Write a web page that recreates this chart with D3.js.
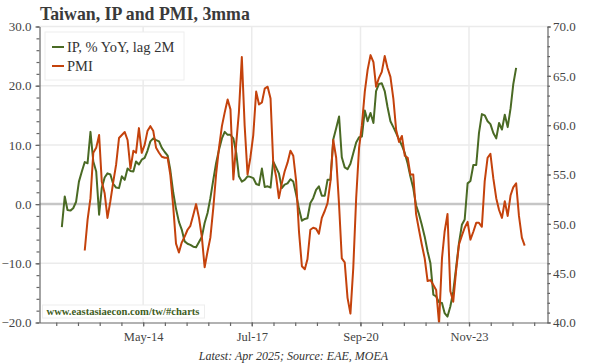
<!DOCTYPE html>
<html>
<head>
<meta charset="utf-8">
<script src="https://cdn.jsdelivr.net/npm/d3@7"></script>
<style>
  body { margin: 0; background: #fff; }
  svg { display: block; font-family: "Liberation Serif", "Times New Roman", serif; }
  .axis path, .axis line { stroke: #666; stroke-width: 1.2; }
  .axis text { fill: #444; font-family: "Liberation Serif", serif; }
</style>
</head>
<body>
<script>
const width = 600,
    height = 364;
const plot = { left: 39.5, right: 547.5, top: 26.5, bottom: 322.5 };

// IP, % YoY (lag 2M), 3mma, monthly from Jan 2012
const ipStart = new Date(2012, 0, 1);
const ipValues = [
    -3.9, 1.3, -1.0, -1.1, -0.7, 0.4, 3.8, 5.5, 7.1, 6.9,
    12.2, 7.2, 5.5, -1.8, 2.7, 4.5, 5.2, 5.0, 3.4, 2.8,
    2.7, 4.7, 4.1, 6.0, 5.6, 5.5, 7.2, 6.7, 7.5, 7.8,
    9.0, 10.6, 11.1, 10.8, 10.6, 9.5, 8.8, 8.2, 5.8, 2.0,
    -0.8, -3.0, -4.3, -6.3, -6.7, -6.9, -7.2, -7.3, -6.4, -5.5,
    -3.2, -1.5, 1.0, 4.1, 6.9, 9.2, 11.1, 12.2, 11.7, 11.7,
    11.1, 8.6, 4.7, 3.8, 4.1, 4.7, 4.6, 4.4, 3.4, 3.2,
    6.0, 2.9, 3.0, 2.8, 7.2, 6.2, 5.2, 2.7, 3.3, 3.5,
    4.2, 3.8, 1.6, -0.8, -2.8, -2.5, -2.4, 0.2, 1.0, 2.4,
    3.0, 1.4, 1.4, 4.1, 4.1, 10.9, 12.8, 14.8, 7.9, 6.2,
    5.9, 6.8, 8.6, 10.4, 11.3, 11.4, 15.8, 14.0, 15.4, 13.7,
    19.1, 20.3, 20.4, 19.1, 16.4, 14.0, 13.0, 12.0, 10.9, 9.9,
    8.6, 6.8, 4.7, 2.7, -0.2, -1.7, -3.5, -5.5, -8.0, -10.0,
    -15.3, -15.6, -16.6, -16.7, -18.4, -19.0, -17.3, -14.8, -10.8, -6.6,
    -3.5, -2.6, 3.5, 3.9, 6.6, 6.6, 12.0, 15.2, 15.0, 14.0,
    13.5, 12.0, 11.1, 13.7, 12.6, 15.1, 13.0, 16.2, 20.2, 23.0
];

// PMI, 3mma, monthly from Sep 2012
const pmiStart = new Date(2012, 8, 1);
const pmiValues = [
    47.3, 50.4, 52.6, 57.2, 57.7, 59.0, 54.3, 53.1, 50.6, 52.3,
    54.2, 56.0, 58.7, 59.0, 59.3, 58.5, 55.6, 57.4, 57.2, 59.7,
    57.2, 58.0, 59.4, 59.9, 59.4, 57.7, 57.2, 56.8, 56.7, 56.7,
    55.0, 51.8, 48.0, 47.1, 48.1, 48.7, 49.4, 49.8, 50.9, 52.0,
    50.6, 48.6, 45.6, 47.2, 48.6, 51.6, 55.0, 57.7, 59.9, 61.3,
    62.6, 61.6, 54.5, 58.2, 61.3, 66.9, 60.0, 55.0, 56.7, 59.0,
    63.4, 62.1, 62.3, 63.7, 63.9, 62.7, 56.3, 54.8, 52.6, 54.1,
    55.3, 56.2, 57.4, 56.9, 54.3, 49.2, 45.7, 45.4, 46.4, 49.4,
    49.6, 49.5, 49.0, 50.6, 51.3, 52.1, 54.3, 58.5, 56.7, 51.9,
    46.5, 46.1, 42.5, 40.9, 45.5, 52.6, 57.7, 60.0, 63.4, 65.6,
    67.1, 66.4, 63.9, 64.8, 65.4, 67.0, 65.8, 64.9, 62.7, 59.5,
    58.3, 58.9, 56.9, 56.7, 55.0, 55.0, 51.0, 49.4, 47.9, 46.5,
    44.2, 44.3, 43.8, 43.3, 39.9, 46.5, 49.2, 51.0, 43.2, 42.1,
    45.2, 47.9, 48.8, 49.6, 50.2, 48.4, 49.2, 50.1, 50.1, 49.7,
    54.3, 56.7, 57.1, 54.6, 52.6, 51.4, 50.6, 52.3, 50.8, 52.9,
    53.7, 54.1, 50.8, 48.6, 47.8
];

const xTickMonths = ['2014-05', '2017-07', '2020-09', '2023-11'];
const xTickLabels = ['May-14', 'Jul-17', 'Sep-20', 'Nov-23'];
const leftTicks = [-20, -10, 0, 10, 20, 30];
const rightTicks = [40, 45, 50, 55, 60, 65, 70];

const green = '#4a6a24',
    orange = '#c4420c';

const toPoints = (start, values) =>
    values.map((v, i) => ({ date: d3.timeMonth.offset(start, i), value: v }));

const ip = toPoints(ipStart, ipValues);
const pmi = toPoints(pmiStart, pmiValues);

const x = d3.scaleTime()
    .domain([new Date(2011, 4, 8), new Date(2026, 2, 1)])
    .range([plot.left, plot.right]);

const yLeft = d3.scaleLinear().domain([-20, 30]).range([plot.bottom, plot.top]);
const yRight = d3.scaleLinear().domain([40, 70]).range([plot.bottom, plot.top]);

// tick dates sit mid-month on this chart
const parseMonth = d3.timeParse('%Y-%m');
const xTicks = xTickMonths.map(s => d3.timeDay.offset(parseMonth(s), 15));

// minor ticks: five per major interval
const step = (xTicks[1] - xTicks[0]) / 5;
const xMinor = [];
for (let t = +xTicks[0]; t > +x.domain()[0]; t -= step) xMinor.push(new Date(t));
for (let t = +xTicks[0] + step; t < +x.domain()[1]; t += step) xMinor.push(new Date(t));

const svg = d3.select('body')
    .append('svg')
    .attr('width', width)
    .attr('height', height);

svg.append('defs')
    .append('clipPath')
    .attr('id', 'plot-clip')
    .append('rect')
    .attr('x', plot.left)
    .attr('y', plot.top)
    .attr('width', plot.right - plot.left)
    .attr('height', plot.bottom - plot.top);

// grid
const grid = svg.append('g');
grid.selectAll('line.h')
    .data(leftTicks.filter(d => d !== 0 && d !== -20))
    .enter()
    .append('line')
    .attr('x1', plot.left)
    .attr('x2', plot.right)
    .attr('y1', d => yLeft(d))
    .attr('y2', d => yLeft(d))
    .attr('stroke', '#ebebeb')
    .attr('stroke-width', 1.5);

grid.selectAll('line.v')
    .data(xTicks)
    .enter()
    .append('line')
    .attr('x1', d => x(d))
    .attr('x2', d => x(d))
    .attr('y1', plot.top)
    .attr('y2', plot.bottom)
    .attr('stroke', '#ebebeb')
    .attr('stroke-width', 1.5);

grid.append('line')
    .attr('x1', plot.left)
    .attr('x2', plot.right)
    .attr('y1', yLeft(0))
    .attr('y2', yLeft(0))
    .attr('stroke', '#c6c6c6')
    .attr('stroke-width', 2.5);

// series
const lines = svg.append('g').attr('clip-path', 'url(#plot-clip)');

lines.append('path')
    .datum(ip)
    .attr('fill', 'none')
    .attr('stroke', green)
    .attr('stroke-width', 2)
    .attr('stroke-linejoin', 'round')
    .attr('d', d3.line().x(d => x(d.date)).y(d => yLeft(d.value)));

lines.append('path')
    .datum(pmi)
    .attr('fill', 'none')
    .attr('stroke', orange)
    .attr('stroke-width', 2)
    .attr('stroke-linejoin', 'round')
    .attr('d', d3.line().x(d => x(d.date)).y(d => yRight(d.value)));

// axes
svg.append('g')
    .attr('class', 'axis')
    .attr('transform', `translate(${plot.left},0)`)
    .call(d3.axisLeft(yLeft).tickValues(d3.range(-20, 31, 2)).tickSize(3).tickFormat(''))
    .call(g => g.select('.domain').remove());

svg.append('g')
    .attr('class', 'axis')
    .attr('transform', `translate(${plot.left},0)`)
    .call(d3.axisLeft(yLeft).tickValues(leftTicks).tickSize(4).tickSizeOuter(0).tickPadding(4).tickFormat(d3.format('.1f')))
    .call(g => g.selectAll('text').style('font-size', '13px'));

svg.append('g')
    .attr('class', 'axis')
    .attr('transform', `translate(${plot.right},0)`)
    .call(d3.axisRight(yRight).tickValues(d3.range(40, 71, 1)).tickSize(2.5).tickFormat(''))
    .call(g => g.select('.domain').remove());

svg.append('g')
    .attr('class', 'axis')
    .attr('transform', `translate(${plot.right},0)`)
    .call(d3.axisRight(yRight).tickValues(rightTicks).tickSize(3.5).tickSizeOuter(0).tickPadding(2).tickFormat(d3.format('.1f')))
    .call(g => g.selectAll('text').style('font-size', '13px'));

svg.append('g')
    .attr('class', 'axis')
    .attr('transform', `translate(0,${plot.bottom})`)
    .call(d3.axisBottom(x).tickValues(xMinor).tickSize(3.5).tickFormat(''))
    .call(g => g.select('.domain').remove());

svg.append('g')
    .attr('class', 'axis')
    .attr('transform', `translate(0,${plot.bottom})`)
    .call(d3.axisBottom(x).tickValues(xTicks).tickSize(4).tickSizeOuter(0).tickPadding(6)
        .tickFormat((d, i) => xTickLabels[i]))
    .call(g => g.selectAll('text').style('font-size', '12.5px'));

// legend
const legend = svg.append('g').attr('transform', 'translate(45,32)');
legend.append('rect')
    .attr('width', 139)
    .attr('height', 48)
    .attr('fill', '#fff')
    .attr('stroke', '#eeeeee');

const legendItems = [
    { name: 'IP, % YoY, lag 2M', color: green },
    { name: 'PMI', color: orange }
];

const item = legend.selectAll('g.item')
    .data(legendItems)
    .enter()
    .append('g')
    .attr('transform', (d, i) => `translate(0,${15 + i * 19})`);

item.append('line')
    .attr('x1', 7)
    .attr('x2', 19)
    .attr('stroke', d => d.color)
    .attr('stroke-width', 2);

item.append('text')
    .attr('x', 22)
    .attr('dy', '0.35em')
    .attr('fill', '#333')
    .style('font-size', '14.5px')
    .text(d => d.name);

// watermark
const mark = svg.append('g').attr('transform', 'translate(42.5,305)');
mark.append('rect')
    .attr('width', 162)
    .attr('height', 13)
    .attr('fill', '#fff')
    .attr('stroke', '#eeeeee');
mark.append('text')
    .attr('x', 4)
    .attr('y', 10)
    .attr('fill', '#3f5e1e')
    .style('font-size', '10.6px')
    .style('font-weight', 'bold')
    .text('www.eastasiaecon.com/tw/#charts');

// title and footer
svg.append('text')
    .attr('x', 40)
    .attr('y', 19.5)
    .attr('fill', '#3a3a3a')
    .style('font-size', '17.8px')
    .style('font-weight', 'bold')
    .text('Taiwan, IP and PMI, 3mma');

svg.append('text')
    .attr('x', (plot.left + plot.right) / 2)
    .attr('y', 360)
    .attr('text-anchor', 'middle')
    .attr('fill', '#333')
    .style('font-size', '12px')
    .style('font-style', 'italic')
    .text('Latest: Apr 2025; Source: EAE, MOEA');
</script>
</body>
</html>
